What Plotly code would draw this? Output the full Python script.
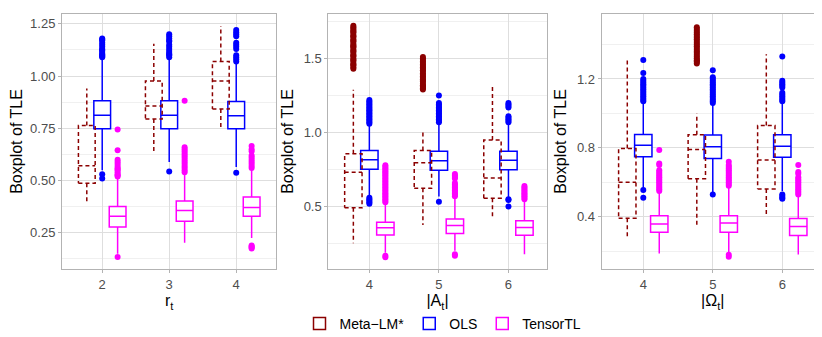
import plotly.graph_objects as go

methods = ['Meta\u2212LM*', 'OLS', 'TensorTL']
colors = ['#8B0000', '#0000FF', '#FF00FF']

r_levels = [2, 3, 4]
a_levels = [4, 5, 6]
omega_levels = [4, 5, 6]

# per level: [lower whisker, q1, median, q3, upper whisker]
meta_r = [[0.387, 0.487, 0.571, 0.764, 0.941],
          [0.627, 0.795, 0.857, 0.977, 1.155],
          [0.750, 0.842, 0.977, 1.070, 1.240]]
ols_r = [[0.550, 0.748, 0.812, 0.882, 1.085],
         [0.589, 0.748, 0.812, 0.882, 1.085],
         [0.565, 0.748, 0.810, 0.878, 1.062]]
tensor_r = [[0.150, 0.278, 0.329, 0.376, 0.519],
            [0.203, 0.306, 0.357, 0.402, 0.534],
            [0.225, 0.329, 0.371, 0.421, 0.550]]

meta_a = [[0.254, 0.493, 0.733, 0.857, 1.289],
          [0.376, 0.624, 0.797, 0.879, 1.017],
          [0.425, 0.558, 0.693, 0.950, 1.318]]
ols_a = [[0.569, 0.753, 0.817, 0.879, 1.057],
         [0.569, 0.746, 0.810, 0.875, 1.068],
         [0.558, 0.750, 0.813, 0.875, 1.068]]
tensor_a = [[0.190, 0.309, 0.358, 0.396, 0.524],
            [0.203, 0.320, 0.374, 0.418, 0.569],
            [0.180, 0.307, 0.360, 0.405, 0.547]]

meta_o = [[0.272, 0.392, 0.600, 0.796, 1.310],
          [0.354, 0.621, 0.790, 0.876, 1.000],
          [0.410, 0.562, 0.730, 0.930, 1.343]]
ols_o = [[0.568, 0.749, 0.815, 0.878, 1.063],
         [0.540, 0.739, 0.806, 0.874, 1.053],
         [0.549, 0.745, 0.810, 0.876, 1.063]]
tensor_o = [[0.187, 0.310, 0.358, 0.406, 0.539],
            [0.187, 0.310, 0.364, 0.406, 0.577],
            [0.181, 0.291, 0.343, 0.390, 0.520]]

# outliers per level
meta_r_out = [[], [], []]
ols_r_out = [[0.53, 0.51, 1.09, 1.095, 1.10, 1.105, 1.11, 1.12, 1.125, 1.13, 1.14, 1.15, 1.16, 1.17, 1.175, 1.18],
             [0.543, 1.09, 1.10, 1.105, 1.11, 1.12, 1.13, 1.14, 1.15, 1.165, 1.17, 1.18, 1.19, 1.20],
             [0.537, 1.07, 1.08, 1.09, 1.10, 1.13, 1.14, 1.15, 1.16, 1.19, 1.20, 1.21, 1.22]]
tensor_r_out = [[0.134, 0.52, 0.525, 0.53, 0.54, 0.55, 0.555, 0.56, 0.57, 0.58, 0.59, 0.60, 0.645, 0.745],
                [0.54, 0.55, 0.56, 0.57, 0.58, 0.59, 0.60, 0.61, 0.62, 0.63, 0.64, 0.65, 0.66, 0.882],
                [0.175, 0.18, 0.185, 0.19, 0.56, 0.57, 0.58, 0.59, 0.60, 0.61, 0.62, 0.64, 0.65, 0.665]]

meta_a_out = [[1.43, 1.44, 1.455, 1.46, 1.47, 1.485, 1.49, 1.50, 1.515, 1.52, 1.53, 1.545, 1.55, 1.56, 1.575,
               1.58, 1.59, 1.60, 1.615, 1.62, 1.63, 1.645, 1.65, 1.66, 1.675, 1.68, 1.69, 1.70, 1.71, 1.72],
              [1.29, 1.30, 1.31, 1.315, 1.32, 1.33, 1.345, 1.35, 1.36, 1.37, 1.38, 1.39, 1.40, 1.415, 1.42,
               1.43, 1.44, 1.45, 1.46, 1.47, 1.48, 1.49, 1.50, 1.51],
              []]
ols_a_out = [[0.52, 0.53, 0.54, 0.55, 0.56, 1.06, 1.07, 1.08, 1.09, 1.10, 1.11, 1.12, 1.13, 1.14, 1.15,
              1.16, 1.17, 1.18, 1.19, 1.20, 1.21, 1.22],
             [0.533, 1.07, 1.08, 1.09, 1.10, 1.11, 1.12, 1.13, 1.14, 1.15, 1.16, 1.17, 1.18, 1.19, 1.20, 1.25],
             [0.502, 0.545, 0.55, 1.07, 1.08, 1.09, 1.10, 1.11, 1.17, 1.18, 1.19, 1.20]]
tensor_a_out = [[0.16, 0.17, 0.53, 0.54, 0.55, 0.56, 0.57, 0.58, 0.59, 0.60, 0.61, 0.62, 0.63, 0.64, 0.65,
                 0.66, 0.67, 0.68, 0.69, 0.70, 0.71, 0.72, 0.73, 0.74, 0.75, 0.76, 0.77, 0.78],
                [0.17, 0.18, 0.57, 0.58, 0.59, 0.60, 0.61, 0.62, 0.63, 0.64, 0.65, 0.66, 0.69, 0.70, 0.71, 0.72],
                [0.55, 0.56, 0.57, 0.58, 0.59, 0.60, 0.61, 0.62, 0.63, 0.64]]

meta_o_out = [[],
              [1.29, 1.30, 1.305, 1.31, 1.32, 1.33, 1.34, 1.35, 1.36, 1.37, 1.38, 1.39, 1.40, 1.41, 1.42,
               1.43, 1.44, 1.45, 1.46, 1.47, 1.48, 1.49, 1.50],
              []]
ols_o_out = [[0.51, 0.555, 1.07, 1.08, 1.09, 1.10, 1.11, 1.12, 1.13, 1.14, 1.15, 1.16, 1.17, 1.18, 1.19,
              1.20, 1.235, 1.31],
             [0.53, 1.06, 1.07, 1.08, 1.09, 1.10, 1.11, 1.12, 1.13, 1.14, 1.15, 1.16, 1.17, 1.18, 1.19,
              1.20, 1.21, 1.25],
             [0.505, 0.51, 0.52, 0.53, 1.07, 1.08, 1.09, 1.10, 1.11, 1.12, 1.15, 1.16, 1.17, 1.18, 1.19, 1.33]]
tensor_o_out = [[0.55, 0.56, 0.57, 0.58, 0.59, 0.60, 0.61, 0.62, 0.63, 0.64, 0.65, 0.66, 0.67, 0.70, 0.71, 0.787],
                [0.168, 0.18, 0.58, 0.59, 0.60, 0.61, 0.62, 0.63, 0.64, 0.65, 0.66, 0.67, 0.68, 0.69, 0.70, 0.72],
                [0.53, 0.54, 0.55, 0.56, 0.57, 0.58, 0.59, 0.60, 0.61, 0.62, 0.63, 0.65, 0.66, 0.70]]

x_titles = ['r<sub>t</sub>', '|A<sub>t</sub>|', '|\u03a9<sub>t</sub>|']

panels = [
    (r_levels, [meta_r, ols_r, tensor_r], [meta_r_out, ols_r_out, tensor_r_out]),
    (a_levels, [meta_a, ols_a, tensor_a], [meta_a_out, ols_a_out, tensor_a_out]),
    (omega_levels, [meta_o, ols_o, tensor_o], [meta_o_out, ols_o_out, tensor_o_out]),
]

dodge = 0.23
bw = 0.25

fig = go.Figure()

# legend entry for the dashed Meta-LM* boxes
fig.add_trace(go.Box(x=[None], y=[None], name=methods[0], marker_color=colors[0],
                     line=dict(color=colors[0], width=1.5), fillcolor='white',
                     legendgroup='m0', showlegend=True))

for p, (levels, stats, outs) in enumerate(panels):
    xa = 'x' if p == 0 else 'x%d' % (p + 1)
    ya = 'y' if p == 0 else 'y%d' % (p + 1)
    for m in range(3):
        pos = [lv + (m - 1) * dodge for lv in levels]
        st = stats[m]
        if m == 0:
            # dashed box drawn piece by piece so every edge gets the dash pattern
            for c, s in zip(pos, st):
                lo, q1, med, q3, up = s
                x0, x1 = c - bw / 2, c + bw / 2
                xs = [x0, x1, x1, x0, x0, None, x0, x1, None, c, c, None, c, c]
                ys = [q1, q1, q3, q3, q1, None, med, med, None, q3, up, None, q1, lo]
                fig.add_trace(go.Scatter(x=xs, y=ys, mode='lines', xaxis=xa, yaxis=ya,
                                         line=dict(color=colors[0], width=1.5, dash='4px,3px'),
                                         legendgroup='m0', showlegend=False, hoverinfo='skip'))
        else:
            fig.add_trace(go.Box(x=pos, lowerfence=[s[0] for s in st], q1=[s[1] for s in st],
                                 median=[s[2] for s in st], q3=[s[3] for s in st],
                                 upperfence=[s[4] for s in st], width=bw, whiskerwidth=0,
                                 boxpoints=False, fillcolor='white', name=methods[m],
                                 line=dict(color=colors[m], width=1.5),
                                 xaxis=xa, yaxis=ya, legendgroup='m%d' % m, showlegend=(p == 0)))
        ox, oy = [], []
        for c, vals in zip(pos, outs[m]):
            ox += [c] * len(vals)
            oy += vals
        if oy:
            fig.add_trace(go.Scatter(x=ox, y=oy, mode='markers', xaxis=xa, yaxis=ya,
                                     marker=dict(color=colors[m], size=6),
                                     legendgroup='m%d' % m, showlegend=False))

x_domains = [[0, 0.2814], [0.3495, 0.6361], [0.7081, 1.0]]
x_ranges = [[1.4, 4.6], [3.41, 6.55], [3.4, 6.6]]
y_ranges = [[0.077, 1.297], [0.08, 1.80], [0.097, 1.577]]
y_dticks = [0.25, 0.5, 0.4]
y_formats = ['.2f', '.1f', '.1f']

axis_common = dict(showline=True, mirror=True, linecolor='#b3b3b3', linewidth=1,
                   ticks='outside', ticklen=3, tickcolor='#b3b3b3', zeroline=False,
                   gridcolor='#dedede', gridwidth=1,
                   tickfont=dict(size=13, color='#4d4d4d'))

layout = {}
for p in range(3):
    xk = 'xaxis' if p == 0 else 'xaxis%d' % (p + 1)
    yk = 'yaxis' if p == 0 else 'yaxis%d' % (p + 1)
    levels = panels[p][0]
    layout[xk] = dict(axis_common, domain=x_domains[p], range=x_ranges[p],
                      tickvals=levels, ticktext=[str(v) for v in levels],
                      anchor='y' if p == 0 else 'y%d' % (p + 1),
                      title=dict(text=x_titles[p], font=dict(size=16, color='black'), standoff=4))
    layout[yk] = dict(axis_common, domain=[0, 1], range=y_ranges[p],
                      tick0=0, dtick=y_dticks[p], tickformat=y_formats[p],
                      minor=dict(dtick=y_dticks[p] / 2, showgrid=True, gridcolor='#f0f0f0', ticks=''),
                      anchor='x' if p == 0 else 'x%d' % (p + 1),
                      title=dict(text='Boxplot of TLE', font=dict(size=16, color='black'), standoff=6))

fig.update_layout(**layout)
fig.update_layout(
    width=822, height=337,
    margin=dict(l=53, r=5, t=5, b=72),
    plot_bgcolor='white', paper_bgcolor='white',
    font=dict(family='Liberation Sans, Arial, sans-serif', color='black'),
    boxmode='overlay',
    legend=dict(orientation='h', x=0.5, xanchor='center', y=-0.215, yanchor='middle',
                font=dict(size=14), itemwidth=30, tracegroupgap=0),
)

fig.write_html("out.html")
